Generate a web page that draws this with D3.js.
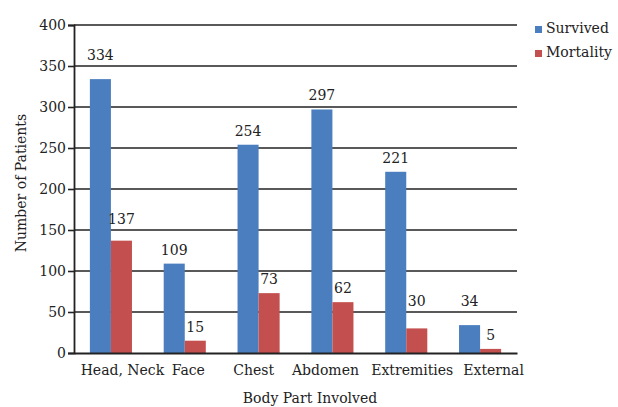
<!DOCTYPE html>
<html><head><meta charset="utf-8">
<script src="https://cdn.jsdelivr.net/npm/d3@7"></script>
<style>
body{margin:0;background:#fff;}
text{font-family:"DejaVu Serif",serif;fill:#222;}
</style></head>
<body><svg id="c" width="618" height="407"></svg>
<script>
const categories = ["Head, Neck","Face","Chest","Abdomen","Extremities","External"];
const survived = [334,109,254,297,221,34];
const mortality = [137,15,73,62,30,5];
const seriesNames = ["Survived","Mortality"];
const colors = ["#4a7ebf","#c3504e"];
const yTicks = [0,50,100,150,200,250,300,350,400];

const svg = d3.select("#c");
const m = {l:74, r:101, t:25, b:54};
const W = 618 - m.l - m.r, H = 407 - m.t - m.b;
const g = svg.append("g").attr("transform",`translate(${m.l},${m.t})`);
const fs = 14;
// horizontal nudge of category labels (layout only)
const labelShift = [11.5, 3.5, -5, -7, 6, 13.5];

const x = d3.scaleBand().domain(categories).range([0,W]).paddingInner(0.43).paddingOuter(0.215);
const xs = d3.scaleBand().domain(seriesNames).range([0,x.bandwidth()]);
const y = d3.scaleLinear().domain([0,400]).range([H,0]);
const gridY = yTicks.filter(d=>d>0).map(d=>y(d));

// gridlines
g.append("g").selectAll("line").data(yTicks.filter(d=>d>0)).join("line")
  .attr("x1",0).attr("x2",W).attr("y1",d=>y(d)).attr("y2",d=>y(d))
  .attr("stroke","#222").attr("stroke-width",1.6);

const data = categories.map((c,i)=>({c, vals:[survived[i],mortality[i]]}));
const grp = g.append("g").selectAll("g").data(data).join("g")
  .attr("transform",d=>`translate(${x(d.c)},0)`);
grp.selectAll("rect").data(d=>d.vals.map((v,j)=>({v,s:seriesNames[j],j}))).join("rect")
  .attr("x",d=>xs(d.s)).attr("width",xs.bandwidth())
  .attr("y",d=>y(d.v)).attr("height",d=>H-y(d.v))
  .attr("fill",d=>colors[d.j]);
function labelY(v){
  let b = y(v)-9;
  for(const gy of gridY){ if(gy > b-12 && gy < b+3){ b = gy-6; } }
  return b;
}
grp.selectAll("text").data(d=>d.vals.map((v,j)=>({v,s:seriesNames[j],j}))).join("text")
  .attr("x",d=>xs(d.s)+xs.bandwidth()/2).attr("y",d=>labelY(d.v))
  .attr("text-anchor","middle").attr("font-size",fs).text(d=>d.v);

// y axis
const ya = g.append("g").call(d3.axisLeft(y).tickValues(yTicks).tickSize(6).tickPadding(2));
ya.select(".domain").attr("stroke","#222").attr("stroke-width",1.8);
ya.selectAll(".tick line").attr("stroke","#222").attr("stroke-width",1.6);
ya.selectAll("text").attr("font-size",fs).attr("font-family","DejaVu Serif").attr("fill","#222");

// x axis
const xa = g.append("g").attr("transform",`translate(0,${H})`).call(d3.axisBottom(x).tickSize(0).tickPadding(9));
xa.select(".domain").attr("stroke","#222").attr("stroke-width",1.8);
xa.selectAll("text").attr("font-size",fs).attr("font-family","DejaVu Serif").attr("fill","#222").attr("dy","0.9em")
  .attr("x",(d,i)=>labelShift[i]);

// titles
svg.append("text").attr("x",310).attr("y",403).attr("text-anchor","middle").attr("font-size",fs).text("Body Part Involved");
svg.append("text").attr("transform",`translate(26,183) rotate(-90)`).attr("text-anchor","middle").attr("font-size",fs).text("Number of Patients");

// legend
const lg = svg.append("g").attr("transform","translate(535,26)");
seriesNames.forEach((s,i)=>{
  lg.append("rect").attr("x",0).attr("y",i*24).attr("width",7).attr("height",7).attr("fill",colors[i]);
  lg.append("text").attr("x",11).attr("y",i*24+7).attr("font-size",fs).text(s);
});
</script></body></html>
